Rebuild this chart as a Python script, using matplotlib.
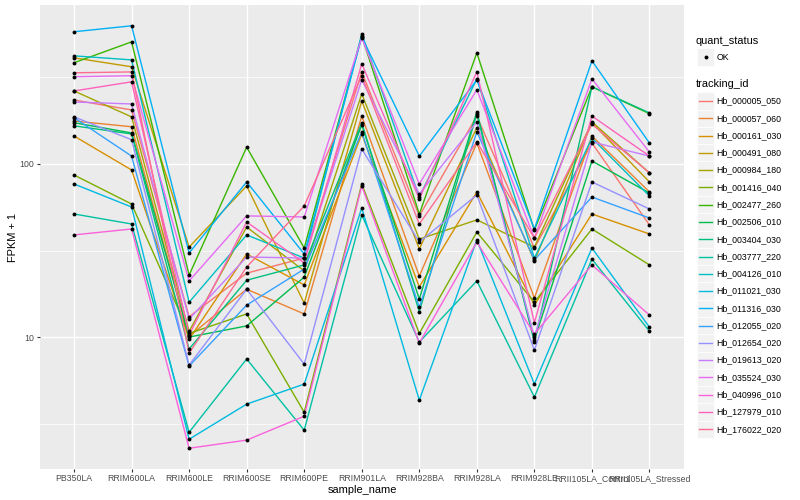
import matplotlib
matplotlib.use("Agg")
import matplotlib.pyplot as plt
from matplotlib.lines import Line2D
from matplotlib.patches import Rectangle
from matplotlib.ticker import FixedLocator, NullFormatter

plt.rcParams['font.family'] = ['Liberation Sans', 'DejaVu Sans']

samples = ["PB350LA", "RRIM600LA", "RRIM600LE", "RRIM600SE", "RRIM600PE",
           "RRIM901LA", "RRIM928BA", "RRIM928LA", "RRIM928LE",
           "RRII105LA_Control", "RRII105LA_Stressed"]

tracking_ids = ["Hb_000005_050", "Hb_000057_060", "Hb_000161_030", "Hb_000491_080",
                "Hb_000984_180", "Hb_001416_040", "Hb_002477_260", "Hb_002506_010",
                "Hb_003404_030", "Hb_003777_220", "Hb_004126_010", "Hb_011021_030",
                "Hb_011316_030", "Hb_012055_020", "Hb_012654_020", "Hb_019613_020",
                "Hb_035524_030", "Hb_040996_010", "Hb_127979_010", "Hb_176022_020"]

# FPKM + 1 per sample (order of `samples`)
Hb_000005_050 = [234, 205, 13.1, 23.4, 28.6, 340, 50.1, 189, 32.7, 132, 44.4]
Hb_000057_060 = [177, 164, 10.1, 18.9, 13.6, 189, 22.5, 132, 16.8, 145, 68.9]
Hb_000161_030 = [145, 92.3, 9.73, 30.2, 20.0, 149, 19.5, 68.9, 15.3, 51.4, 39.4]
Hb_000491_080 = [410, 364, 33.1, 74.6, 15.7, 231, 32.3, 162, 27.5, 173, 78.7]
Hb_000984_180 = [264, 187, 10.8, 43.2, 24.1, 254, 36.8, 47.5, 33.1, 175, 88.7]
Hb_001416_040 = [86.3, 58.7, 10.5, 13.6, 3.68, 76.6, 10.5, 40.4, 15.9, 42.1, 26.1]
Hb_002477_260 = [384, 507, 22.8, 125, 32.7, 549, 51.4, 438, 41.5, 279, 195]
Hb_002506_010 = [173, 151, 10.0, 11.6, 22.2, 168, 16.6, 200, 9.61, 104, 67.9]
Hb_003404_030 = [166, 149, 8.53, 21.3, 26.1, 173, 14.0, 195, 9.36, 279, 197]
Hb_003777_220 = [51.4, 45.0, 2.82, 7.47, 2.90, 50.7, 9.36, 21.1, 4.50, 28.2, 10.8]
Hb_004126_010 = [421, 399, 15.9, 38.9, 28.6, 564, 64.4, 310, 28.6, 141, 65.3]
Hb_011021_030 = [76.6, 56.4, 2.57, 4.10, 5.35, 55.7, 4.32, 36.4, 5.35, 32.7, 11.4]
Hb_011316_030 = [580, 628, 30.6, 78.7, 30.2, 542, 111, 306, 42.1, 394, 132]
Hb_012055_020 = [185, 111, 6.80, 15.3, 24.7, 153, 14.9, 153, 27.9, 64.4, 48.7]
Hb_012654_020 = [187, 138, 6.89, 18.9, 6.98, 122, 35.4, 66.2, 8.41, 78.7, 54.9]
Hb_019613_020 = [228, 222, 12.7, 29.0, 28.6, 306, 67.1, 175, 10.0, 134, 111]
Hb_035524_030 = [319, 323, 21.1, 50.1, 49.4, 535, 76.6, 268, 37.3, 310, 117]
Hb_040996_010 = [38.9, 42.1, 2.28, 2.54, 3.49, 74.6, 9.23, 35.4, 10.4, 26.1, 13.4]
Hb_127979_010 = [264, 298, 10.3, 46.2, 26.8, 379, 62.8, 340, 12.1, 189, 111]
Hb_176022_020 = [336, 340, 8.08, 25.4, 57.2, 323, 45.0, 134, 37.3, 170, 88.7]

series = [Hb_000005_050, Hb_000057_060, Hb_000161_030, Hb_000491_080, Hb_000984_180,
          Hb_001416_040, Hb_002477_260, Hb_002506_010, Hb_003404_030, Hb_003777_220,
          Hb_004126_010, Hb_011021_030, Hb_011316_030, Hb_012055_020, Hb_012654_020,
          Hb_019613_020, Hb_035524_030, Hb_040996_010, Hb_127979_010, Hb_176022_020]

colors = ["#F8766D", "#EA8331", "#D89000", "#C09B00", "#A3A500", "#7CAE00", "#39B600",
          "#00BB4E", "#00BF7D", "#00C1A3", "#00BFC4", "#00BAE0", "#00B0F6", "#35A2FF",
          "#9590FF", "#C77CFF", "#E76BF3", "#FA62DB", "#FF62BC", "#FF6C91"]

W, H = 800, 500
fig = plt.figure(figsize=(W / 100, H / 100), dpi=100)
fig.patch.set_facecolor("white")

L, R, T, B = 39.5, 684, 5, 469
ax = fig.add_axes([L / W, 1 - B / H, (R - L) / W, (B - T) / H])
ax.set_facecolor("#EBEBEB")
ax.set_yscale("log")
ax.set_xlim(-0.6, len(samples) - 1 + 0.6)
ax.set_ylim(10 ** 0.238, 10 ** 2.918)
for s in ax.spines.values():
    s.set_visible(False)

x = list(range(len(samples)))
ax.set_xticks(x)
ax.set_xticklabels(samples)
ax.set_yticks([10, 100])
ax.set_yticklabels(["10", "100"])
ax.yaxis.set_minor_locator(FixedLocator([10 ** 0.5, 10 ** 1.5, 10 ** 2.5]))
ax.yaxis.set_minor_formatter(NullFormatter())
ax.tick_params(which="minor", length=0)
ax.tick_params(which="major", length=2.0, width=0.8, color="#333333",
               labelsize=6.34, labelcolor="#4D4D4D", pad=1.6)
ax.grid(which="major", color="white", lw=1.0)
ax.grid(which="minor", axis="y", color="white", lw=0.5)
ax.set_axisbelow(True)

for vals, c in zip(series, colors):
    ax.plot(x, vals, color=c, lw=1.0, zorder=2)
for vals in series:
    ax.plot(x, vals, linestyle="none", marker="o", color="black", ms=2.8, mew=0, zorder=3)


def fx(px):
    return px / W


def fy(py):
    return 1 - py / H


fig.text(fx(362), fy(490), "sample_name", fontsize=7.92, ha="center", va="center")
fig.text(fx(13.5), fy(237), "FPKM + 1", fontsize=7.92, ha="center", va="center", rotation=90)

# legend: quant_status
fig.text(fx(696), fy(40.7), "quant_status", fontsize=7.92, ha="left", va="center")
k = 17.28
fig.add_artist(Rectangle((fx(697), fy(57 + k / 2)), k / W, k / H, transform=fig.transFigure,
                         fc="#F2F2F2", ec="white", lw=0.5))
fig.add_artist(Line2D([fx(697 + k / 2)], [fy(57)], marker="o", color="black", ms=2.8, mew=0,
                      transform=fig.transFigure))
fig.text(fx(716.7), fy(57), "OK", fontsize=6.34, ha="left", va="center")

# legend: tracking_id
fig.text(fx(696), fy(84.3), "tracking_id", fontsize=7.92, ha="left", va="center")
for i, (tid, c) in enumerate(zip(tracking_ids, colors)):
    yc = 101 + i * k
    fig.add_artist(Rectangle((fx(697), fy(yc + k / 2)), k / W, k / H, transform=fig.transFigure,
                             fc="#F2F2F2", ec="white", lw=0.5))
    fig.add_artist(Line2D([fx(698.7), fx(712.3)], [fy(yc), fy(yc)], color=c, lw=1.0,
                          transform=fig.transFigure))
    fig.text(fx(716.7), fy(yc), tid, fontsize=6.34, ha="left", va="center")

fig.savefig("out.png", dpi=100)
